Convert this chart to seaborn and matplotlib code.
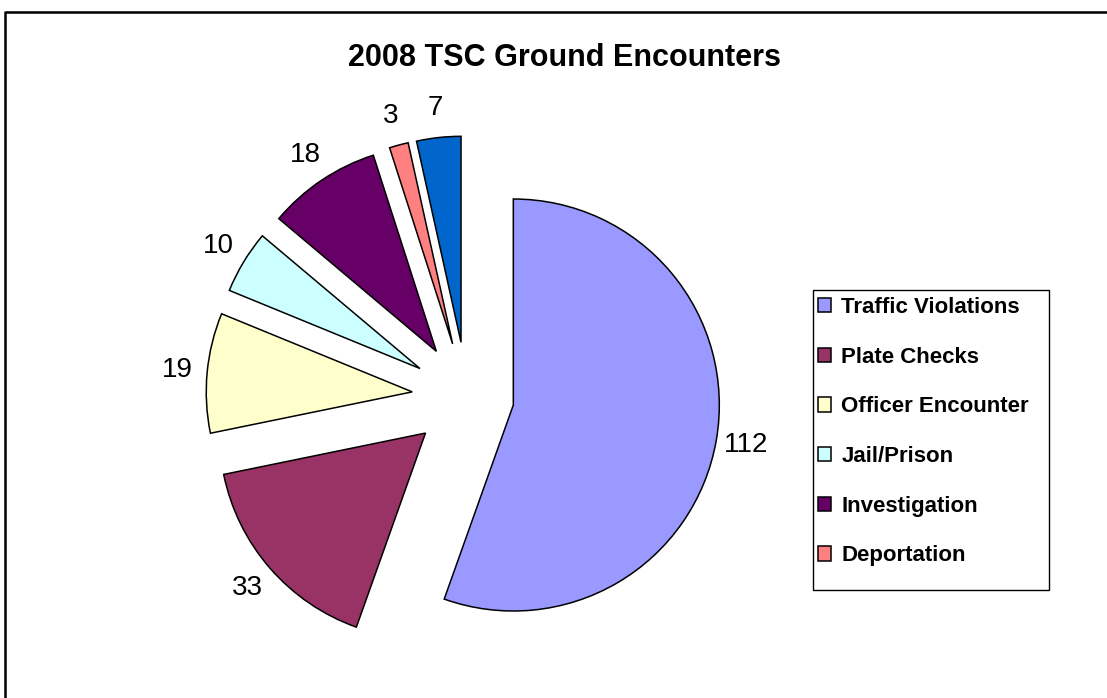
import matplotlib
matplotlib.use("Agg")
import matplotlib.pyplot as plt
import seaborn as sns
from matplotlib.patches import Rectangle
from matplotlib.lines import Line2D

# data
categories = ["Traffic Violations", "Plate Checks", "Officer Encounter",
              "Jail/Prison", "Investigation", "Deportation", "Other"]
counts = [112, 33, 19, 10, 18, 3, 7]
slice_colors = ["#9999FF", "#993366", "#FFFFCC", "#CCFFFF",
                "#660066", "#FF8080", "#0066CC"]
# legend in the original only shows the first six entries
legend_count = 6

sns.set_style("white")
plt.rcParams['font.family'] = ['Liberation Sans', 'DejaVu Sans']
plt.rcParams['text.color'] = 'black'

W, H = 1107, 698
fig = plt.figure(figsize=(W / 100, H / 100), dpi=100)
ax = fig.add_axes([0, 0, 1, 1])

# pie drawn in pixel-like data units
explode = [47, 55, 55, 55, 55, 55, 55]
wedges, texts = ax.pie(
    counts,
    labels=[str(c) for c in counts],
    colors=slice_colors,
    explode=explode,
    startangle=90,
    counterclock=False,
    radius=206,
    center=(467, H - 397),
    labeldistance=1.145,
    wedgeprops=dict(edgecolor="black", linewidth=1.1),
    textprops=dict(fontsize=20, ha="center", va="center", color="black"),
)
ax.set_xlim(0, W)
ax.set_ylim(0, H)
ax.set_aspect("equal")
ax.axis("off")

fig.text(564 / W, 1 - 58 / H, "2008 TSC Ground Encounters",
         fontsize=22, fontweight="bold", ha="center", va="center",
         color="black")

# legend (frame drawn separately so the box keeps its empty bottom)
leg = fig.legend(
    wedges[:legend_count], categories[:legend_count],
    loc="upper left", bbox_to_anchor=(818 / W, 1 - 297 / H),
    frameon=False, borderaxespad=0, borderpad=0,
    prop=dict(size=16, weight="bold"),
    handlelength=0.6, handleheight=0.6, handletextpad=0.45,
    labelspacing=1.29,
)
for t in leg.get_texts():
    t.set_color("black")
fig.add_artist(Rectangle((813 / W, 1 - 590 / H), 236 / W, 300 / H,
                         transform=fig.transFigure, fill=False,
                         edgecolor="black", linewidth=1.0))

# outer chart border (top and left visible)
fig.add_artist(Line2D([4.5 / W, 4.5 / W, 1.0], [0.0, 1 - 11.5 / H, 1 - 11.5 / H],
                      transform=fig.transFigure, color="black", linewidth=1.8))

fig.savefig("out.png", dpi=100)
